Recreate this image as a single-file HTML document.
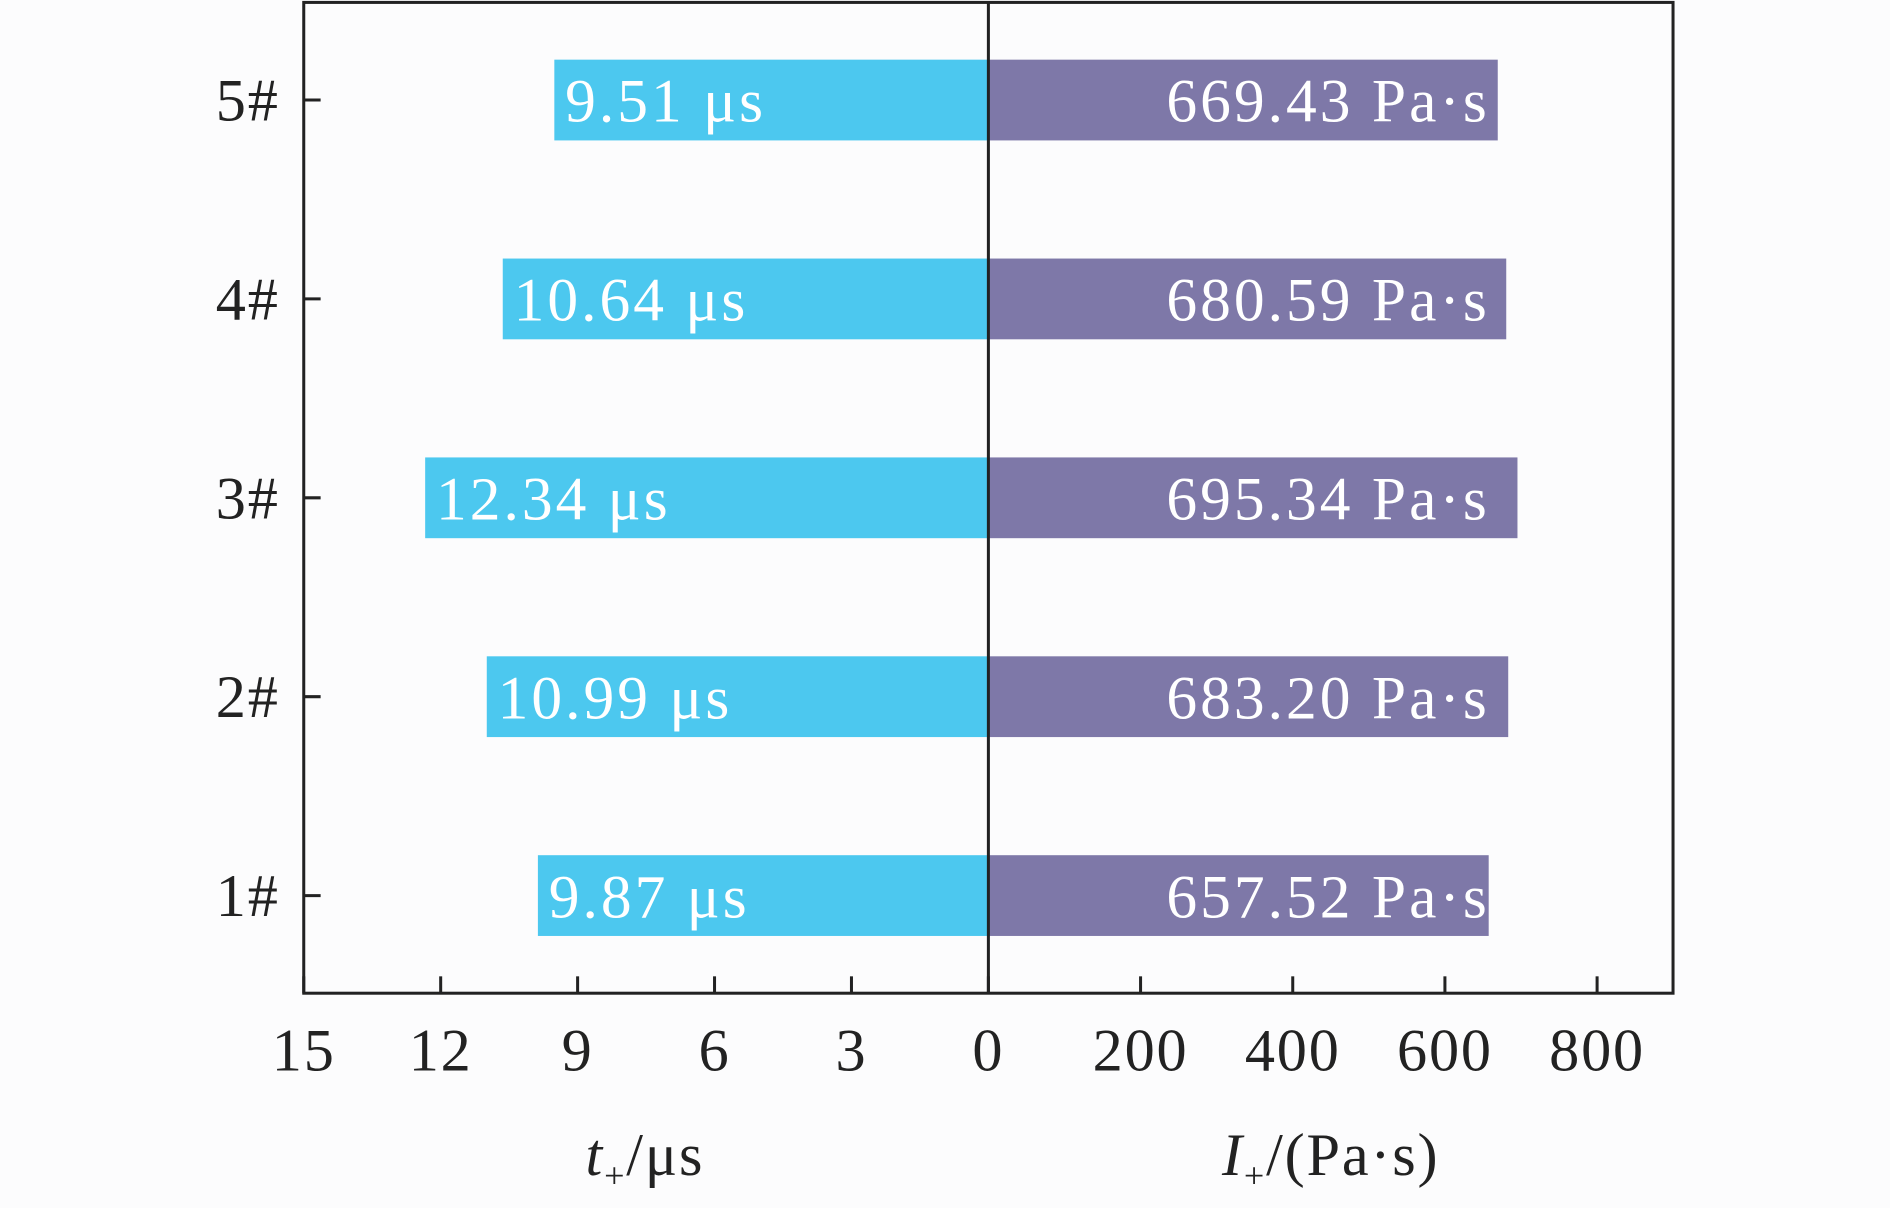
<!DOCTYPE html>
<html><head><meta charset="utf-8"><style>
html,body{margin:0;padding:0;background:#fff;}
svg{display:block;font-family:"Liberation Serif",serif;}
</style></head><body>
<svg id="chart" width="1890" height="1208" viewBox="0 0 1568 1002.2" preserveAspectRatio="none" xmlns="http://www.w3.org/2000/svg">
<rect x="0" y="0" width="1568" height="1002.2" fill="#fcfcfd"/>
<g id="marks"></g>
<rect x="252" y="2" width="1136" height="822" fill="none" stroke="#222" stroke-width="2.5"/>
<line x1="820" y1="2" x2="820" y2="824" stroke="#222" stroke-width="2.5"/>
<g id="axes"></g>
<text x="535" y="975" font-size="50" letter-spacing="1.5" text-anchor="middle" fill="#222"><tspan font-style="italic">t</tspan><tspan font-size="30" dy="10">+</tspan><tspan dy="-10">/μs</tspan></text>
<text x="1104" y="975" font-size="50" letter-spacing="1.5" text-anchor="middle" fill="#222"><tspan font-style="italic">I</tspan><tspan font-size="30" dy="10">+</tspan><tspan dy="-10">/(Pa·s)</tspan></text>
</svg>
<script>
const categories = ["1#","2#","3#","4#","5#"];
const durationValues = [9.87, 10.99, 12.34, 10.64, 9.51];
const impulseValues = [657.52, 683.20, 695.34, 680.59, 669.43];
const leftTicks = [15,12,9,6,3,0];
const rightTicks = [200,400,600,800];

const NS = "http://www.w3.org/2000/svg";
const cx = 820;
const xLeft = v => cx - v * (568/15);
const xRight = v => cx + v * (505/800);
const yCat = i => 743 - i * 165;
const barH = 67;
const marks = document.getElementById('marks');
const axes = document.getElementById('axes');
function mk(tag, attrs, parent){const e=document.createElementNS(NS,tag);for(const k in attrs)e.setAttribute(k,attrs[k]);parent.appendChild(e);return e;}

categories.forEach((c,i)=>{
  const y = yCat(i);
  const lx = xLeft(durationValues[i]);
  const b1 = mk('rect',{x:lx,y:y-barH/2,width:cx-lx,height:barH,fill:'#4cc8ef'},marks);
  
  
  const rx = xRight(impulseValues[i]);
  const b2 = mk('rect',{x:cx,y:y-barH/2,width:rx-cx,height:barH,fill:'#7e78a8'},marks);
  
  
  const t1 = mk('text',{x:lx+9,y:y+18,'font-size':51,'letter-spacing':2.5,fill:'#fff'},marks);
  t1.textContent = durationValues[i].toFixed(2)+' μs';
  
  
  const t2 = mk('text',{x:1236,y:y+18,'font-size':51,'letter-spacing':2.5,fill:'#fff','text-anchor':'end'},marks);
  t2.textContent = impulseValues[i].toFixed(2)+' Pa·s';
  
  
  mk('line',{x1:252,y1:y,x2:266,y2:y,stroke:'#222','stroke-width':2.5},axes);
  const yl = mk('text',{x:232,y:y+17,'font-size':50,'letter-spacing':1.5,fill:'#222','text-anchor':'end'},axes);
  yl.textContent = c;
  
  
});
leftTicks.forEach(v=>{
  const x = xLeft(v);
  mk('line',{x1:x,y1:824,x2:x,y2:810,stroke:'#222','stroke-width':2.5},axes);
  const t = mk('text',{x:x,y:888,'font-size':50,'letter-spacing':1.5,fill:'#222','text-anchor':'middle'},axes);
  t.textContent = v;
  
  
});
rightTicks.forEach(v=>{
  const x = xRight(v);
  mk('line',{x1:x,y1:824,x2:x,y2:810,stroke:'#222','stroke-width':2.5},axes);
  const t = mk('text',{x:x,y:888,'font-size':50,'letter-spacing':1.5,fill:'#222','text-anchor':'middle'},axes);
  t.textContent = v;
  
  
});
</script>
</body></html>
